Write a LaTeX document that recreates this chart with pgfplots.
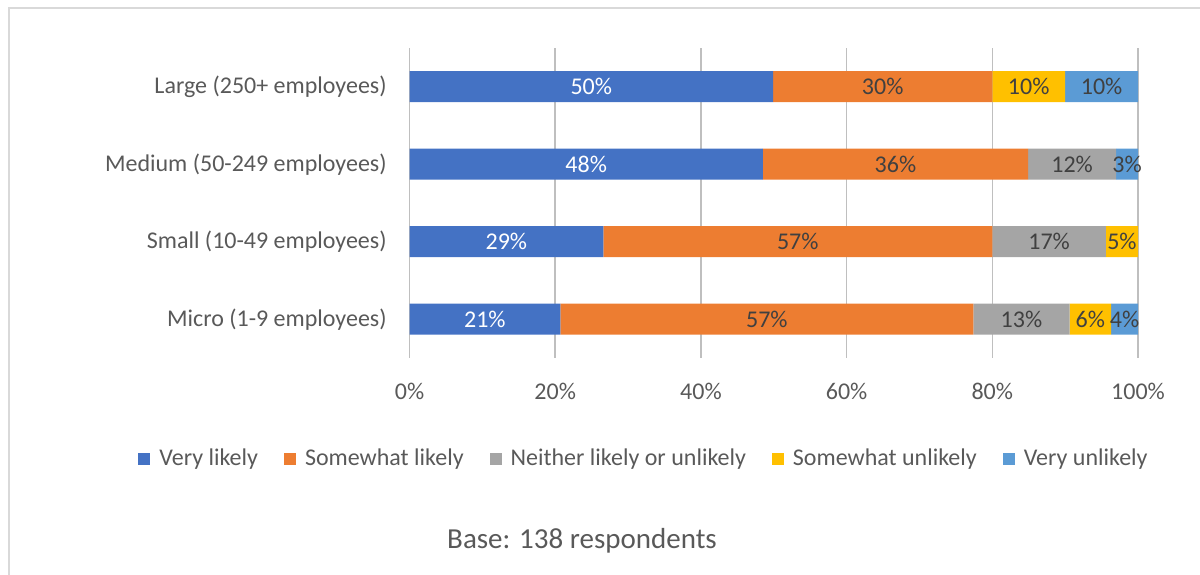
\documentclass[border=0pt]{standalone}
\usepackage{pgfplots}
\pgfplotsset{compat=1.18}
\usepackage{pgfplotstable}
\usepackage{fontspec}
\setmainfont{Carlito}
\definecolor{cBlue}{HTML}{4472C4}
\definecolor{cOrange}{HTML}{ED7D31}
\definecolor{cGray}{HTML}{A5A5A5}
\definecolor{cYellow}{HTML}{FFC000}
\definecolor{cLBlue}{HTML}{5B9BD5}
\definecolor{txt}{HTML}{595959}
\definecolor{lbl}{HTML}{404040}
\definecolor{grid}{HTML}{D9D9D9}

% y: 0 = Micro, 1 = Small, 2 = Medium, 3 = Large
\pgfplotstableread{
y x label
0 20.7 {21\%}
1 26.6 {29\%}
2 48.5 {48\%}
3 49.9 {50\%}
}\veryl
\pgfplotstableread{
y x label
0 56.7 {57\%}
1 53.4 {57\%}
2 36.4 {36\%}
3 30.1 {30\%}
}\somel
\pgfplotstableread{
y x label
0 13.2 {13\%}
1 15.6 {17\%}
2 12.1 {12\%}
3 0 {}
}\neither
\pgfplotstableread{
y x label
0 5.7 {6\%}
1 4.4 {5\%}
2 0 {}
3 10.0 {10\%}
}\someu
\pgfplotstableread{
y x label
0 3.7 {4\%}
1 0 {}
2 3.0 {3\%}
3 10.0 {10\%}
}\veryu

\begin{document}
\begin{tikzpicture}
\useasboundingbox (0,0) rectangle (600bp,287.5bp);
\draw[grid, line width=0.75bp] (4.5bp,-1bp) -- (4.5bp,283.5bp) -- (601bp,283.5bp);
\begin{axis}[
  at={(204.75bp,108.5bp)}, anchor=south west,
  scale only axis, width=364.25bp, height=155bp,
  xbar stacked, bar width=15.5bp,
  xmin=0, xmax=100, ymin=-0.5, ymax=3.5,
  axis line style={draw=none},
  major tick length=0pt,
  xtick={0,20,40,60,80,100},
  xticklabels={0\%,20\%,40\%,60\%,80\%,100\%},
  ytick={0,1,2,3},
  yticklabels={Micro (1-9 employees),Small (10-49 employees),Medium (50-249 employees),Large (250+ employees)},
  xmajorgrids, grid style={grid, line width=0.75bp},
  ymajorgrids=false,
  tick label style={font=\fontsize{12bp}{14bp}\selectfont, text=txt, inner sep=0pt},
  xticklabel style={anchor=center, yshift=-16.5bp},
  yticklabel style={anchor=east, xshift=-11.25bp},
  point meta=explicit symbolic,
  nodes near coords={\pgfplotspointmeta},
  every node near coord/.append style={anchor=center, font=\fontsize{12bp}{14bp}\selectfont, text=lbl},
  legend style={at={(0.3233,-0.3258)}, anchor=center, draw=none, fill=none,
    legend columns=-1, font=\fontsize{12bp}{14bp}\selectfont, text=txt,
    /tikz/every odd column/.append style={column sep=2.5bp},
    /tikz/every even column/.append style={column sep=11bp},
    inner sep=0pt},
  legend image code/.code={\fill[#1] (0bp,-3bp) rectangle (6bp,3bp);},
  every axis plot/.append style={draw=none},
]
\addplot[fill=cBlue, every node near coord/.append style={text=white}] table[x=x,y=y,meta=label] {\veryl};
\addplot[fill=cOrange] table[x=x,y=y,meta=label] {\somel};
\addplot[fill=cGray] table[x=x,y=y,meta=label] {\neither};
\addplot[fill=cYellow] table[x=x,y=y,meta=label] {\someu};
\addplot[fill=cLBlue] table[x=x,y=y,meta=label] {\veryu};
\legend{Very likely,Somewhat likely,Neither likely or unlikely,Somewhat unlikely,Very unlikely}
\end{axis}
\node[font=\fontsize{14.5bp}{17bp}\selectfont, text=txt] at (291bp,17bp) {Base: 138 respondents};
\end{tikzpicture}
\end{document}
